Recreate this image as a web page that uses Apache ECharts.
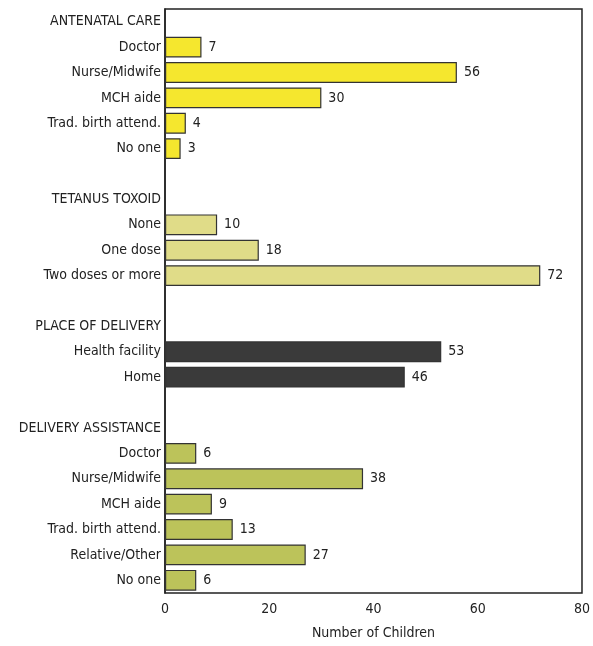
<!DOCTYPE html>
<html>
<head>
<meta charset="utf-8">
<script src="https://cdn.jsdelivr.net/npm/echarts@6/dist/echarts.min.js"></script>
<style>
html,body{margin:0;padding:0;background:#fff;}
#c{width:593px;height:646px;}
</style>
</head>
<body>
<div id="c"></div>
<script>
const headers = ['ANTENATAL CARE', 'TETANUS TOXOID', 'PLACE OF DELIVERY', 'DELIVERY ASSISTANCE'];
const antenatalCats = ['Doctor', 'Nurse/Midwife', 'MCH aide', 'Trad. birth attend.', 'No one'];
const antenatalVals = [7, 56, 30, 4, 3];
const tetanusCats = ['None', 'One dose', 'Two doses or more'];
const tetanusVals = [10, 18, 72];
const placeCats = ['Health facility', 'Home'];
const placeVals = [53, 46];
const assistCats = ['Doctor', 'Nurse/Midwife', 'MCH aide', 'Trad. birth attend.', 'Relative/Other', 'No one'];
const assistVals = [6, 38, 9, 13, 27, 6];
const xTicks = [0, 20, 40, 60, 80];
const axisTitle = 'Number of Children';

const groupCats = [antenatalCats, tetanusCats, placeCats, assistCats];
const groupVals = [antenatalVals, tetanusVals, placeVals, assistVals];
const groupColors = ['#f5e72e', '#e0dc88', '#3a3a3a', '#bcc35a'];

// Build category list: header, items, blank spacer between groups
const categories = [];
const seriesData = [[], [], [], []];
groupCats.forEach((cats, g) => {
  if (g > 0) {
    categories.push(' '.repeat(g));
    seriesData.forEach(s => s.push('-'));
  }
  categories.push(headers[g]);
  seriesData.forEach(s => s.push('-'));
  cats.forEach((c, i) => {
    categories.push(c + '\u200b'.repeat(g + 1));
    seriesData.forEach((s, k) => s.push(k === g ? groupVals[g][i] : '-'));
  });
});

const FONT = '"Liberation Sans Narrow", "DejaVu Sans Condensed", sans-serif';

const chart = echarts.init(document.getElementById('c'), null, {renderer: 'canvas'});
chart.setOption({
  animation: false,
  backgroundColor: '#ffffff',
  grid: {left: 165, right: 9, top: 9, bottom: 53, show: true, borderColor: '#222', borderWidth: 1.5, backgroundColor: 'transparent'},
  xAxis: {
    type: 'value', min: 0, max: 80, interval: 20,
    axisLine: {show: false}, axisTick: {show: false}, splitLine: {show: false},
    axisLabel: {fontFamily: FONT, fontSize: 14, color: '#222', margin: 9,
      formatter: v => xTicks.includes(v) ? String(v) : ''},
    name: axisTitle, nameLocation: 'middle', nameGap: 33,
    nameTextStyle: {fontFamily: FONT, fontSize: 14, color: '#222'}
  },
  yAxis: {
    type: 'category', data: categories, inverse: true,
    axisLine: {show: true, lineStyle: {color: '#222', width: 1.5}},
    axisTick: {show: false},
    axisLabel: {fontFamily: FONT, fontSize: 14, color: '#222', margin: 4, interval: 0,
      formatter: v => v.replace(/\u200b/g, '')}
  },
  series: seriesData.map((d, k) => ({
    type: 'bar', data: d, barGap: '-100%', barCategoryGap: '18%',
    itemStyle: {color: groupColors[k], borderColor: '#333', borderWidth: 1.2},
    label: {show: true, position: 'right', distance: 7, fontFamily: FONT, fontSize: 14, color: '#222'}
  }))
});
</script>
</body>
</html>
